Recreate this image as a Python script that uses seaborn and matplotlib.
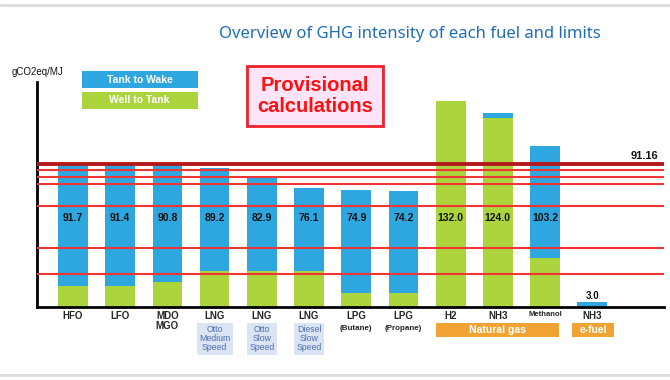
import matplotlib
matplotlib.use("Agg")
import matplotlib.pyplot as plt
from matplotlib.patches import Rectangle
from matplotlib.lines import Line2D
import seaborn as sns

# fuel categories (unique keys) and what is printed under each bar
keys = ["HFO", "LFO", "MDO", "LNG_OMS", "LNG_OSS", "LNG_DSS",
        "LPG_B", "LPG_P", "H2", "NH3_NG", "MeOH", "NH3_E"]
main_labels = ["HFO", "LFO", "MDO\nMGO", "LNG", "LNG", "LNG",
               "LPG", "LPG", "H2", "NH3", "Methanol", "NH3"]
sub_labels = ["", "", "", "Otto\nMedium\nSpeed", "Otto\nSlow\nSpeed", "Diesel\nSlow\nSpeed",
              "(Butane)", "(Propane)", "", "", "", ""]

# total GHG intensity (label values) and the Well-to-Tank part
totals = [91.7, 91.4, 90.8, 89.2, 82.9, 76.1, 74.9, 74.2, 132.0, 124.0, 103.2, 3.0]
well_to_tank = [13.3, 13.5, 16.0, 22.7, 22.7, 22.7, 8.6, 8.6, 132.0, 121.0, 31.4, 0.0]

# limit lines (gCO2eq/MJ)
reference_limit = 91.16
limits = [87.6, 82.9, 78.5, 64.6, 37.6, 21.0]

BLUE = "#2ea6df"
GREEN = "#acd43c"
ORANGE = "#f0a232"

sns.set_theme(style="white")
plt.rcParams["font.family"] = ["Liberation Sans", "DejaVu Sans"]

fig = plt.figure(figsize=(6.7, 3.8), dpi=100)
ax = fig.add_axes([37 / 670, 73.3 / 380, 627 / 670, 224.7 / 380])

# stacked bars: full height in blue, WtT part drawn over it in green
sns.barplot(x=keys, y=totals, order=keys, color=BLUE, saturation=1,
            width=0.63, linewidth=0, ax=ax)
sns.barplot(x=keys, y=well_to_tank, order=keys, color=GREEN, saturation=1,
            width=0.63, linewidth=0, ax=ax)

for v in limits:
    ax.axhline(v, color="#f03535", lw=1.5, zorder=5)
ax.axhline(reference_limit, color="#b3191d", lw=2.8, zorder=6)
ax.text(12.39, reference_limit + 2.5, f"{reference_limit:.2f}", ha="right", va="bottom",
        fontsize=8, fontweight="bold", color="#111111")

ax.set_xlim(-0.763, 12.52)
ax.set_ylim(0, 144)
ax.set_yticks([])
ax.set_ylabel("")
for s in ["top", "right"]:
    ax.spines[s].set_visible(False)
for s in ["left", "bottom"]:
    ax.spines[s].set_color("black")
    ax.spines[s].set_linewidth(2)

# value labels inside the bars, the tiny e-fuel one above
for i, t in enumerate(totals):
    if t < 10:
        ax.annotate(f"{t:.1f}", xy=(i, t), xytext=(0, 1), textcoords="offset points",
                    ha="center", va="bottom", fontsize=7, fontweight="bold", color="#111111")
    else:
        ax.text(i, 56.7, f"{t:.1f}", ha="center", va="center", fontsize=7.5,
                fontweight="bold", color="#111111", zorder=7)

# category labels
ax.set_xticks(range(len(keys)))
ax.set_xticklabels(main_labels, fontsize=7, fontweight="bold", linespacing=1.0)
ax.tick_params(axis="x", length=0, pad=3)
for lab in ax.get_xticklabels():
    if lab.get_text() == "Methanol":
        lab.set_fontsize(5.5)

for i, sub in enumerate(sub_labels):
    if not sub:
        continue
    if sub.startswith("("):
        ax.annotate(sub, xy=(i, 0), xycoords=("data", "axes fraction"), xytext=(0, -13),
                    textcoords="offset points", ha="center", va="top", fontsize=5.8,
                    fontweight="bold", color="#222222")
    else:
        ax.annotate(sub, xy=(i, 0), xycoords=("data", "axes fraction"), xytext=(0, -13.5),
                    textcoords="offset points", ha="center", va="top", fontsize=6.3,
                    color="#4a6fb0", linespacing=1.0,
                    bbox=dict(boxstyle="square,pad=0.28", fc="#dbe4f3", ec="none"))

# group boxes under the bars
xt = ax.get_xaxis_transform()
for x0, x1, name in [(7.69, 10.30, "Natural gas"), (10.58, 11.47, "e-fuel")]:
    ax.add_patch(Rectangle((x0, -0.136), x1 - x0, 0.065, transform=xt,
                           fc=ORANGE, ec="none", clip_on=False))
    ax.text((x0 + x1) / 2, -0.1035, name, transform=xt, ha="center", va="center",
            fontsize=7.5, fontweight="bold", color="white")

# unit, title, legend boxes, provisional stamp
fig.text(37.5 / 670, 1 - 71.7 / 380, "gCO2eq/MJ", ha="center", va="center",
         fontsize=7, color="#111111")
fig.text(409.5 / 670, 1 - 34 / 380, "Overview of GHG intensity of each fuel and limits",
         ha="center", va="center", fontsize=12, color="#1f6db8",
         family=["Noto Sans", "DejaVu Sans"], fontweight="light")

for y0, h, col, name in [(0.7676, 0.0463, BLUE, "Tank to Wake"), (0.7132, 0.0455, GREEN, "Well to Tank")]:
    fig.patches.append(Rectangle((0.122, y0), 0.173, h, transform=fig.transFigure,
                                 fc=col, ec="none"))
    fig.text(0.122 + 0.173 / 2, y0 + h / 2, name, ha="center", va="center",
             fontsize=7.5, fontweight="bold", color="white")

fig.patches.append(Rectangle((0.3687, 0.6684), 0.2025, 0.1579, transform=fig.transFigure,
                             fc="#ffe3f6", ec="#f0202a", lw=2))
fig.text(0.47, 0.747, "Provisional\ncalculations", ha="center", va="center",
         fontsize=14.5, fontweight="bold", color="#ff1010", linespacing=1.15)

# slide frame lines
for y in [1 - 5 / 380, 5 / 380]:
    fig.lines.append(Line2D([0, 1], [y, y], transform=fig.transFigure, color="#dcdcdc", lw=2))

fig.savefig("out.png", dpi=100)
